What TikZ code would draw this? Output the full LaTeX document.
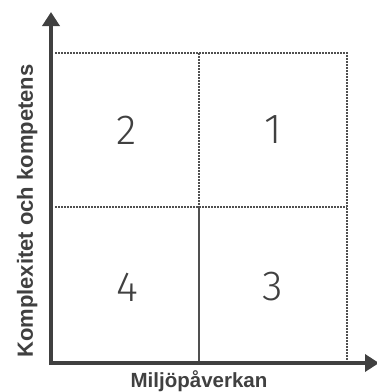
\documentclass[tikz,border=0pt]{standalone}
\usepackage{fontspec}
\setmainfont{Liberation Sans}
\newfontfamily\numfont{Fira Sans}[UprightFont=* Light]
\usetikzlibrary{arrows.meta, positioning}
\definecolor{axisgray}{HTML}{404040}
\definecolor{gridgray}{HTML}{505050}

\begin{document}
\begin{tikzpicture}[
  x=1pt, y=-1pt,
  axis/.style={line width=4pt, draw=axisgray, -{Triangle[length=14pt, width=17pt]}},
  border/.style={line width=1.4pt, draw=gridgray, dash pattern=on 1.5pt off 1.5pt},
  divider/.style={line width=1.4pt, draw=gridgray},
  quad/.style={font=\numfont\fontsize{42}{42}\selectfont, text=axisgray},
  axlabel/.style={font=\bfseries\fontsize{20.5}{20.5}\selectfont, text=axisgray, inner sep=0pt}
]
\useasboundingbox (0,0) rectangle (377,392);
% corners of the field
\coordinate (O) at (51,363);
\coordinate (ytip) at (51,12);
\coordinate (xtip) at (379,363);
\coordinate (tl) at (55,53);
\coordinate (tm) at (199,53);
\coordinate (tr) at (347,53);
\coordinate (ml) at (55,207);
\coordinate (mm) at (199,207);
\coordinate (mr) at (347,207);
\coordinate (bm) at (199,363);
\coordinate (br) at (347,361);
% quadrant lines
\draw[border] (tl) -- (tr) -- (br);
\draw[border] (ml) -- (mr);
\draw[border] (tm) -- (mm);
\draw[divider] (mm) -- (bm);
% quadrant numbers
\node[quad] (q2) at (127,130) {2};
\node[quad] (q1) at (273,130) {1};
\node[quad] (q4) at (127,287) {4};
\node[quad] (q3) at (273,287) {3};
% axes
\draw[axis] ([xshift=-2pt]O) -- (xtip);
\draw[axis] ([yshift=-2pt]O) -- (ytip);
\node[axlabel, anchor=base] (xlab) at (199,387) {Miljöpåverkan};
\node[axlabel, anchor=base, rotate=90, font=\bfseries\fontsize{22}{22}\selectfont] (ylab) at (33,211) {Komplexitet och kompetens};
\end{tikzpicture}
\end{document}
